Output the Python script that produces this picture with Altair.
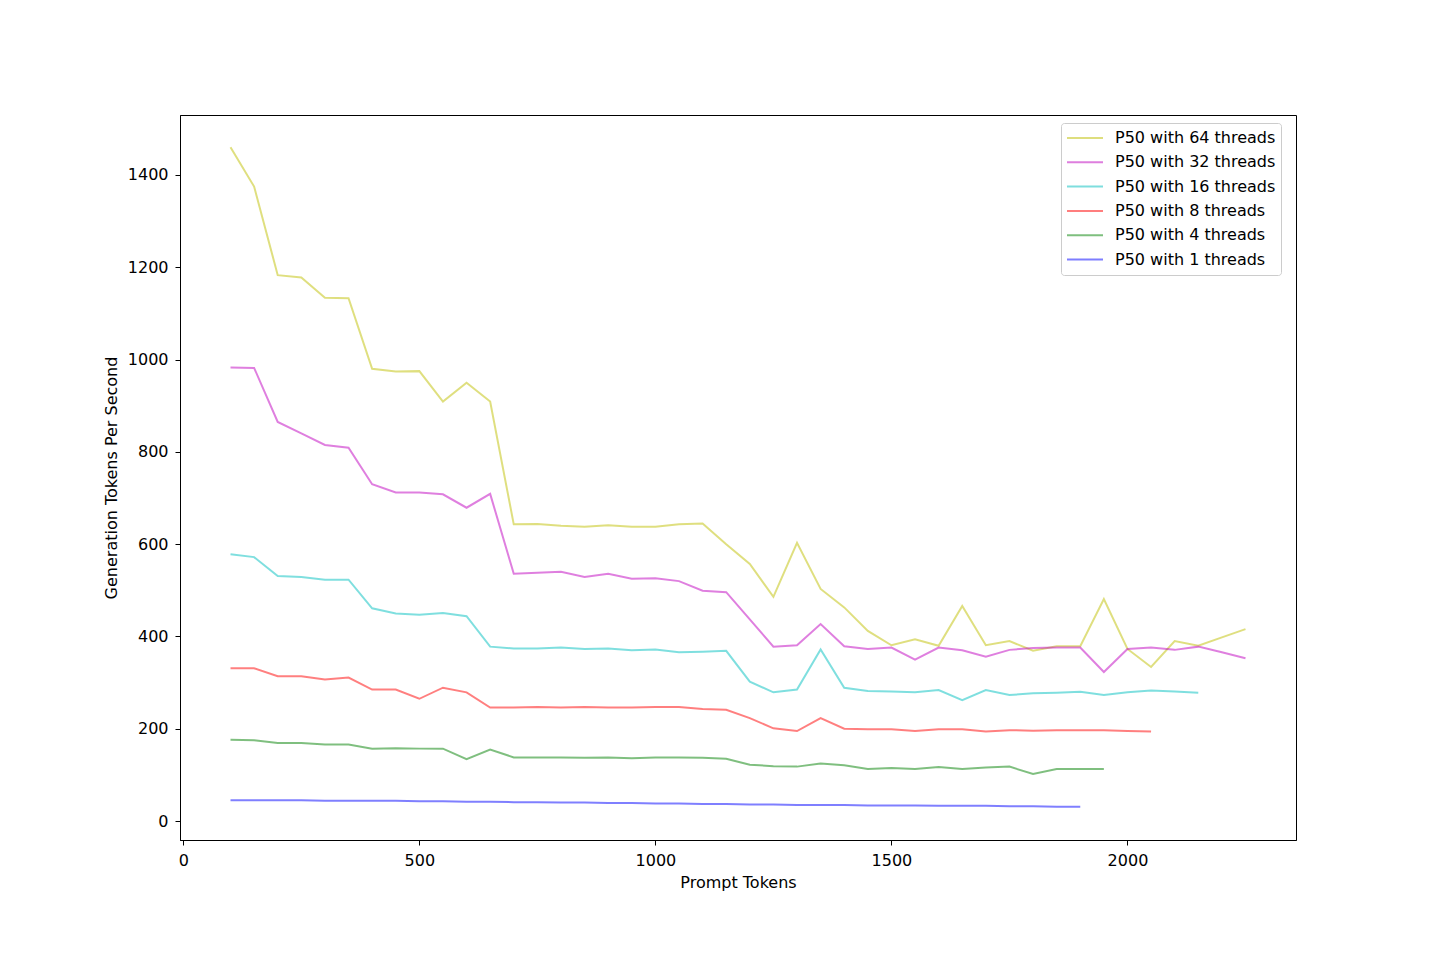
import altair as alt
import pandas as pd

prompt_tokens = list(range(100, 2300, 50))  # 100 .. 2250

p64 = [1460, 1375, 1183, 1178, 1134, 1133, 980, 974, 975, 909, 950, 909,
       643, 644, 640, 638, 641, 638, 638, 643, 645, 600, 557, 486, 603, 503,
       463, 412, 381, 394, 380, 466, 381, 390, 369, 379, 379, 481, 373, 334,
       390, 380, 398, 416]
p32 = [983, 982, 865, 840, 815, 809, 730, 712, 712, 708, 679, 709,
       536, 538, 540, 529, 536, 525, 526, 520, 499, 496, 437, 378, 381, 427,
       379, 373, 376, 350, 376, 370, 356, 371, 375, 376, 376, 323, 373, 376,
       371, 378, 366, 353]
p16 = [578, 572, 531, 529, 523, 523, 461, 450, 447, 451, 444, 378,
       374, 374, 376, 373, 374, 370, 372, 366, 367, 369, 302, 279, 285, 372,
       289, 282, 281, 279, 284, 262, 284, 273, 277, 278, 280, 273, 279, 283,
       281, 278]
p8 = [331, 331, 314, 314, 307, 311, 285, 285, 265, 289, 279, 246,
      246, 247, 246, 247, 246, 246, 247, 247, 243, 241, 223, 201, 195, 223,
      200, 199, 199, 195, 199, 199, 194, 197, 196, 197, 197, 197, 195, 194]
p4 = [176, 175, 169, 169, 166, 166, 157, 158, 157, 157, 134, 155,
      138, 138, 138, 137, 138, 136, 138, 138, 137, 135, 122, 119, 118, 125,
      121, 113, 115, 113, 117, 113, 116, 118, 102, 113, 113, 113]
p1 = [45, 45, 45, 45, 44, 44, 44, 44, 43, 43, 42, 42,
      41, 41, 40, 40, 39, 39, 38, 38, 37, 37, 36, 36, 35, 35,
      35, 34, 34, 34, 33, 33, 33, 32, 32, 31, 31]

series_names = ["P50 with 64 threads", "P50 with 32 threads", "P50 with 16 threads",
                "P50 with 8 threads", "P50 with 4 threads", "P50 with 1 threads"]
series_values = [p64, p32, p16, p8, p4, p1]
series_colors = ["#bfbf00", "#bf00bf", "#00bfbf", "#ff0000", "#008000", "#0000ff"]

rows = []
for order, (name, vals) in enumerate(zip(series_names, series_values)):
    for x, v in zip(prompt_tokens, vals):
        rows.append({"Prompt Tokens": x, "value": v, "series": name, "order": order})
df = pd.DataFrame(rows)

chart = alt.Chart(df).mark_line(strokeWidth=2, opacity=0.5).encode(
    x=alt.X("Prompt Tokens:Q",
            scale=alt.Scale(domain=[-7, 2357], nice=False, zero=False),
            axis=alt.Axis(title="Prompt Tokens", values=[0, 500, 1000, 1500, 2000],
                          format="d", grid=False, tickSize=5, labelPadding=7,
                          titlePadding=6)),
    y=alt.Y("value:Q",
            scale=alt.Scale(domain=[-41, 1530], nice=False, zero=False),
            axis=alt.Axis(title="Generation Tokens Per Second",
                          values=[0, 200, 400, 600, 800, 1000, 1200, 1400],
                          format="d", grid=False, tickSize=5, labelPadding=7,
                          titlePadding=8)),
    color=alt.Color("series:N",
                    scale=alt.Scale(domain=series_names, range=series_colors),
                    legend=alt.Legend(title=None, orient="none", legendX=881, legendY=8,
                                      direction="vertical", symbolType="stroke",
                                      symbolSize=1296, symbolStrokeWidth=2,
                                      symbolOpacity=0.5, labelFontSize=16,
                                      labelOffset=11, labelLimit=400, padding=5,
                                      rowPadding=4.3, clipHeight=20,
                                      strokeColor="#cccccc", fillColor="white",
                                      cornerRadius=3, labelColor="black")),
    order=alt.Order("order:Q"),
    detail="series:N",
).properties(
    width=1116, height=725,
    autosize=alt.AutoSizeParams(type="none"),
    padding={"left": 172, "top": 107, "right": 136, "bottom": 112},
).configure(
    font="DejaVu Sans",
).configure_view(
    stroke="black", strokeWidth=1,
).configure_axis(
    labelFontSize=16, titleFontSize=16, titleFontWeight="normal",
    labelColor="black", titleColor="black", tickColor="black",
    domainColor="black", labelFont="DejaVu Sans", titleFont="DejaVu Sans",
)

chart.save("out.html", embed_options={"renderer": "svg", "actions": False})
